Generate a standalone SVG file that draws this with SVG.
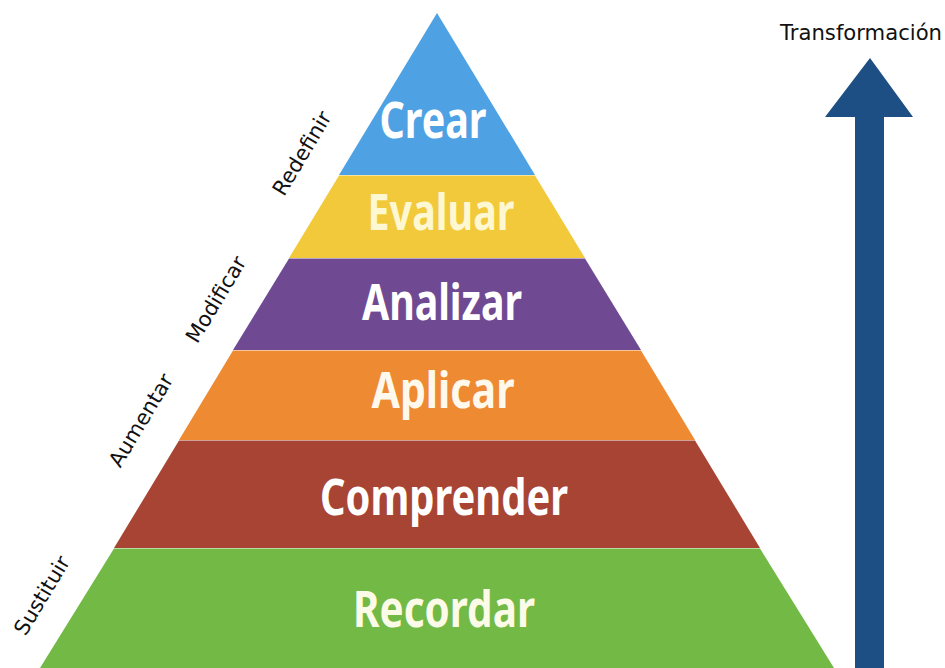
<svg xmlns="http://www.w3.org/2000/svg" width="945" height="668" viewBox="0 0 945 668">
<style>
.band{stroke:none}
.lbl{font-family:"Noto Sans","Open Sans",sans-serif;font-weight:700;font-size:50px;fill:#ffffff}
.side{font-family:"DejaVu Sans","Noto Sans",sans-serif;font-size:21px;fill:#111111}
</style>
<rect width="945" height="668" fill="#ffffff"/>
<g id="crear">
<polygon class="band" points="437,13 339,175 535,175" fill="#4ea2e3"/>
<text class="lbl" x="433" y="138" text-anchor="middle" textLength="107" lengthAdjust="spacingAndGlyphs">Crear</text>
</g>
<g id="evaluar">
<polygon class="band" points="339,175.5 535,175.5 585,258 289,258" fill="#f2c93a"/>
<text class="lbl" x="441" y="230" text-anchor="middle" textLength="147" lengthAdjust="spacingAndGlyphs" style="fill:#fdf7d2">Evaluar</text>
</g>
<g id="analizar">
<polygon class="band" points="289,258.5 585,258.5 641,350 233,350" fill="#6f4a93"/>
<text class="lbl" x="442" y="320" text-anchor="middle" textLength="160" lengthAdjust="spacingAndGlyphs">Analizar</text>
</g>
<g id="aplicar">
<polygon class="band" points="233,350.5 641,350.5 695,440 179,440" fill="#ee8a31"/>
<text class="lbl" x="443" y="408" text-anchor="middle" textLength="143" lengthAdjust="spacingAndGlyphs" style="fill:#fff8ec">Aplicar</text>
</g>
<g id="comprender">
<polygon class="band" points="179,440.5 695,440.5 760,548 114,548" fill="#a84433"/>
<text class="lbl" x="444" y="515" text-anchor="middle" textLength="248" lengthAdjust="spacingAndGlyphs">Comprender</text>
</g>
<g id="recordar">
<polygon class="band" points="114,548.5 760,548.5 834,668 40,668" fill="#72b945"/>
<text class="lbl" x="444" y="627" text-anchor="middle" textLength="182" lengthAdjust="spacingAndGlyphs" style="fill:#fbfbe8">Recordar</text>
</g>
<g id="labels">
<text class="side" transform="translate(43,596) rotate(-59)" text-anchor="middle" dominant-baseline="middle">Sustituir</text>
<text class="side" transform="translate(142,421) rotate(-59)" text-anchor="middle" dominant-baseline="middle">Aumentar</text>
<text class="side" transform="translate(217,300) rotate(-59)" text-anchor="middle" dominant-baseline="middle">Modificar</text>
<text class="side" transform="translate(303,154) rotate(-59)" text-anchor="middle" dominant-baseline="middle">Redefinir</text>
</g>
<g id="transformacion">
<text class="side" x="861" y="40" text-anchor="middle" textLength="162" lengthAdjust="spacingAndGlyphs" style="font-size:21px;font-weight:500">Transformación</text>
</g>
<g id="connectors">
<polygon points="870,58 913,117 884,117 884,668 855,668 855,117 825,117" fill="#1d4f85"/>
</g>
</svg>
